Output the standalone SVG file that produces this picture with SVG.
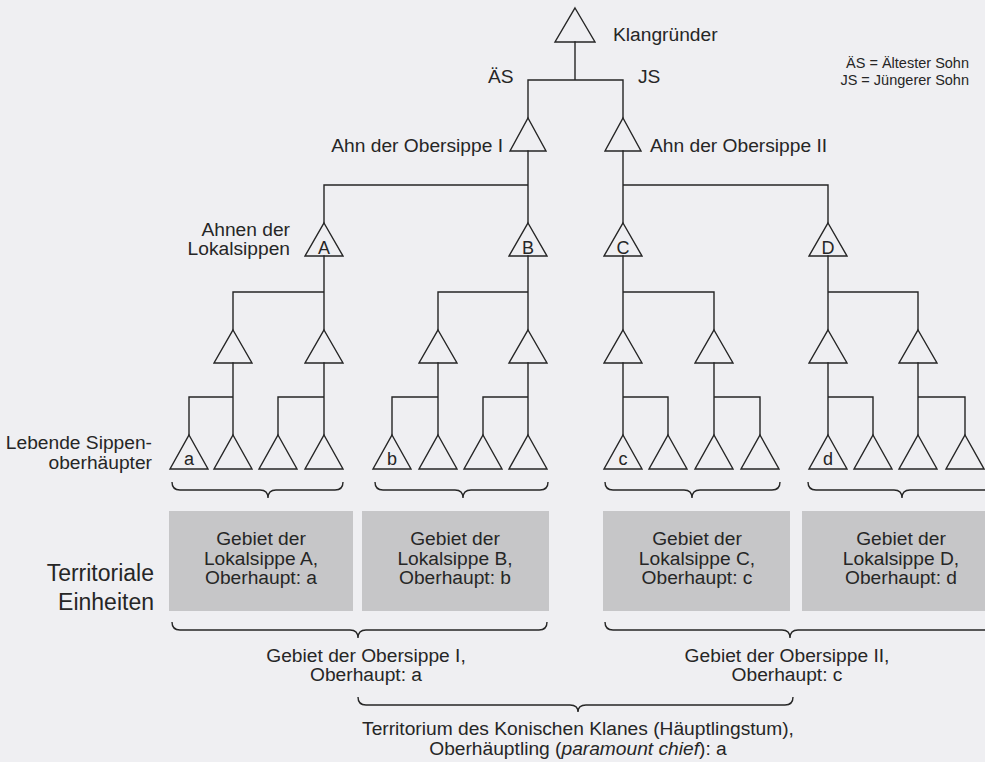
<svg xmlns="http://www.w3.org/2000/svg" width="985" height="762" viewBox="0 0 985 762">
<defs>
<style>
.ln{stroke:#262626;stroke-width:1.4;fill:none;stroke-linecap:square}
.tri{stroke:#262626;stroke-width:1.4;fill:none;stroke-linejoin:miter}
.br{stroke:#262626;stroke-width:1.4;fill:none}
.t{font-family:"Liberation Sans",Arial,sans-serif;font-size:19.2px;fill:#262626}
.s{font-family:"Liberation Sans",Arial,sans-serif;font-size:14.5px;fill:#262626}
.big{font-family:"Liberation Sans",Arial,sans-serif;font-size:23px;fill:#262626}
.in{font-family:"Liberation Sans",Arial,sans-serif;font-size:18px;fill:#262626;text-anchor:middle}
.m{text-anchor:middle}
.e{text-anchor:end}
.area{fill:#c6c6c8}
</style>
</defs>
<rect x="0" y="0" width="985" height="762" fill="#efeff2"/>

<g id="connectors">
<path class="ln" d="M575,42V80 M528,80H623 M528,80V118 M623,80V118"/>
<path class="ln" d="M528,151V223 M623,151V223 M324,185H528 M623,185H828 M324,185V223 M828,185V223"/>
<path class="ln" d="M324,256V330 M528,256V330 M623,256V330 M828,256V330 M233,292H324 M438,292H528 M623,292H714 M828,292H918 M233,292V330 M438,292V330 M714,292V330 M918,292V330"/>
<path class="ln" d="M233,363V435 M324,363V435 M438,363V435 M528,363V435 M623,363V435 M714,363V435 M828,363V435 M918,363V435 M189,397H233 M278,397H324 M392,397H438 M483,397H528 M623,397H668 M714,397H760 M828,397H873 M918,397H965 M189,397V435 M278,397V435 M392,397V435 M483,397V435 M668,397V435 M760,397V435 M873,397V435 M965,397V435"/>
</g>

<g id="node-klangruender"><path class="tri" d="M575,8L595,42H555Z"/><text class="t" x="613" y="41">Klangründer</text></g>
<g id="node-obersippe-1"><path class="tri" d="M528,118L546,151H510Z"/><text class="t e" x="503" y="152">Ahn der Obersippe I</text></g>
<g id="node-obersippe-2"><path class="tri" d="M623,118L641,151H605Z"/><text class="t" x="650" y="152">Ahn der Obersippe II</text></g>

<g id="node-A"><path class="tri" d="M324,223L343,256H305Z"/><text class="in" x="324" y="254">A</text></g>
<g id="node-B"><path class="tri" d="M528,223L547,256H509Z"/><text class="in" x="528" y="254">B</text></g>
<g id="node-C"><path class="tri" d="M623,223L642,256H604Z"/><text class="in" x="623" y="254">C</text></g>
<g id="node-D"><path class="tri" d="M828,223L847,256H809Z"/><text class="in" x="828" y="254">D</text></g>

<g id="level3">
<path class="tri" d="M233,330L252,363H214Z"/>
<path class="tri" d="M324,330L343,363H305Z"/>
<path class="tri" d="M438,330L457,363H419Z"/>
<path class="tri" d="M528,330L547,363H509Z"/>
<path class="tri" d="M623,330L642,363H604Z"/>
<path class="tri" d="M714,330L733,363H695Z"/>
<path class="tri" d="M828,330L847,363H809Z"/>
<path class="tri" d="M918,330L937,363H899Z"/>
</g>

<g id="node-a"><path class="tri" d="M189,435L208,469H170Z"/><text class="in" x="189" y="465">a</text></g>
<g id="node-b"><path class="tri" d="M392,435L411,469H373Z"/><text class="in" x="392" y="465">b</text></g>
<g id="node-c"><path class="tri" d="M623,435L642,469H604Z"/><text class="in" x="623" y="465">c</text></g>
<g id="node-d"><path class="tri" d="M828,435L847,469H809Z"/><text class="in" x="828" y="465">d</text></g>
<g id="level4">
<path class="tri" d="M233,435L252,469H214Z"/>
<path class="tri" d="M278,435L297,469H259Z"/>
<path class="tri" d="M324,435L343,469H305Z"/>
<path class="tri" d="M438,435L457,469H419Z"/>
<path class="tri" d="M483,435L502,469H464Z"/>
<path class="tri" d="M528,435L547,469H509Z"/>
<path class="tri" d="M668,435L687,469H649Z"/>
<path class="tri" d="M714,435L733,469H695Z"/>
<path class="tri" d="M760,435L779,469H741Z"/>
<path class="tri" d="M873,435L892,469H854Z"/>
<path class="tri" d="M918,435L937,469H899Z"/>
<path class="tri" d="M965,435L984,469H946Z"/>
</g>

<g id="labels">
<text class="t" x="488" y="83">ÄS</text>
<text class="t" x="638" y="83">JS</text>
<text class="s e" x="969" y="68">ÄS = Ältester Sohn</text>
<text class="s e" x="969" y="85">JS = Jüngerer Sohn</text>
<text class="t e" x="290" y="236">Ahnen der</text>
<text class="t e" x="290" y="255">Lokalsippen</text>
<text class="t e" x="152" y="449">Lebende Sippen-</text>
<text class="t e" x="152" y="469">oberhäupter</text>
<text class="big e" x="154" y="581">Territoriale</text>
<text class="big e" x="154" y="610">Einheiten</text>
</g>

<g id="braces">
<path class="br" d="M172,482Q172,490 180,490L260,490Q268,490 268,498Q268,490 276,490L335,490Q343,490 343,482"/>
<path class="br" d="M375,482Q375,490 383,490L455,490Q463,490 463,498Q463,490 471,490L540,490Q548,490 548,482"/>
<path class="br" d="M605,482Q605,490 613,490L684,490Q692,490 692,498Q692,490 700,490L772,490Q780,490 780,482"/>
<path class="br" d="M808,482Q808,490 816,490L894,490Q902,490 902,498Q902,490 910,490L984,490Q992,490 992,482"/>
<path class="br" d="M172,622Q172,630 180,630L350,630Q358,630 358,638Q358,630 366,630L539,630Q547,630 547,622"/>
<path class="br" d="M605,622Q605,630 613,630L782,630Q790,630 790,638Q790,630 798,630L984,630Q992,630 992,622"/>
<path class="br" d="M358,697Q358,705 366,705L570,705Q578,705 578,712Q578,705 586,705L785,705Q793,705 793,697"/>
</g>

<g id="territory-A"><rect class="area" x="169" y="511" width="184" height="100"/>
<text class="t m" x="261" y="545">Gebiet der</text><text class="t m" x="261" y="565">Lokalsippe A,</text><text class="t m" x="261" y="584">Oberhaupt: a</text></g>
<g id="territory-B"><rect class="area" x="362" y="511" width="187" height="100"/>
<text class="t m" x="455" y="545">Gebiet der</text><text class="t m" x="455" y="565">Lokalsippe B,</text><text class="t m" x="455" y="584">Oberhaupt: b</text></g>
<g id="territory-C"><rect class="area" x="603" y="511" width="187" height="100"/>
<text class="t m" x="697" y="545">Gebiet der</text><text class="t m" x="697" y="565">Lokalsippe C,</text><text class="t m" x="697" y="584">Oberhaupt: c</text></g>
<g id="territory-D"><rect class="area" x="802" y="511" width="190" height="100"/>
<text class="t m" x="901" y="545">Gebiet der</text><text class="t m" x="901" y="565">Lokalsippe D,</text><text class="t m" x="901" y="584">Oberhaupt: d</text></g>

<g id="territory-obersippe-1"><text class="t m" x="366" y="662">Gebiet der Obersippe I,</text><text class="t m" x="366" y="681">Oberhaupt: a</text></g>
<g id="territory-obersippe-2"><text class="t m" x="787" y="662">Gebiet der Obersippe II,</text><text class="t m" x="787" y="681">Oberhaupt: c</text></g>
<g id="territory-klan"><text class="t m" x="578" y="735">Territorium des Konischen Klanes (Häuptlingstum),</text><text class="t m" x="578" y="755">Oberhäuptling (<tspan font-style="italic">paramount chief</tspan>): a</text></g>
</svg>
